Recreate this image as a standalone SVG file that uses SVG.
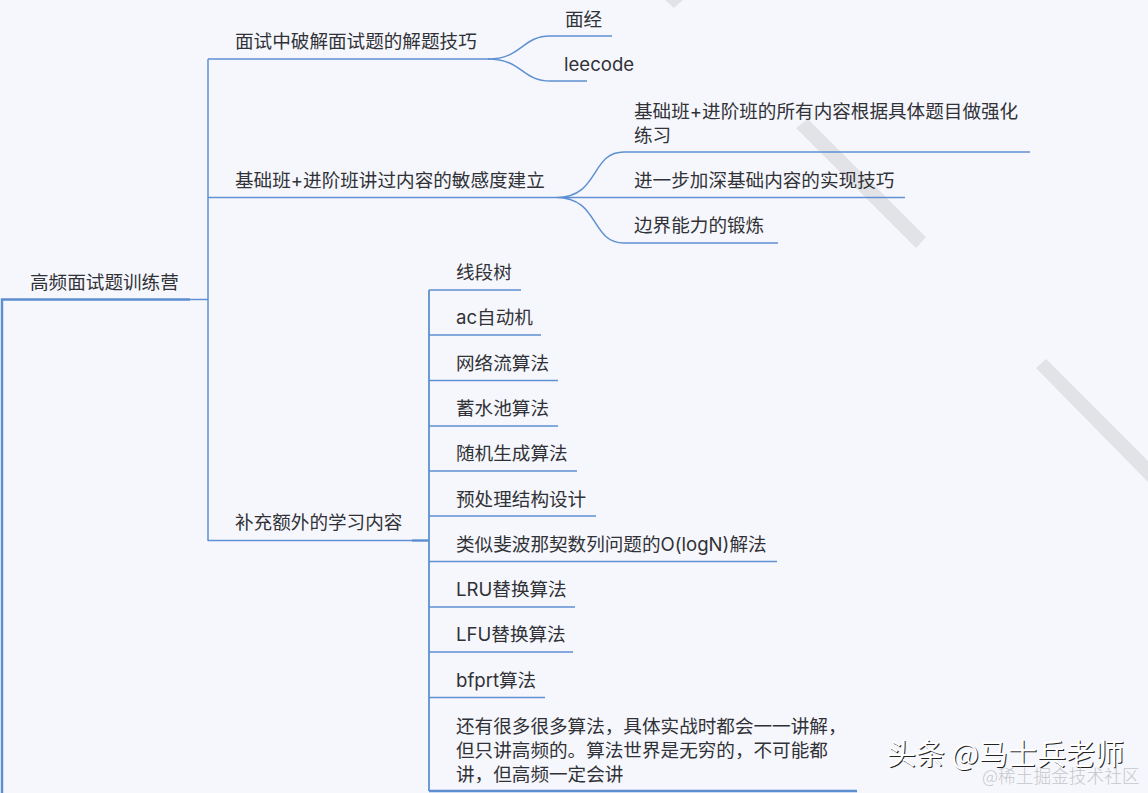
<svg xmlns="http://www.w3.org/2000/svg" width="1148" height="793" viewBox="0 0 1148 793">
<style>
text{font-family:"Inter","Noto Sans CJK SC",sans-serif;font-size:18.6px;fill:#303237}
.c{fill:none;stroke:#5f90d2;stroke-width:1.5}
.t{fill:none;stroke:#5b8dd0;stroke-width:2.4}
.b{fill:#e2e3e7}
.w{font-family:"Noto Sans CJK SC",sans-serif;font-size:29px;fill:#fff;text-shadow:1px 1px 0 #222}
.s{font-family:"Noto Sans CJK SC",sans-serif;font-size:17.7px;fill:#c6c7cb;font-weight:300}
</style>
<rect width="1148" height="793" fill="#f6f7fc"/>
<g id="bands">
<polygon class="b" points="665,0 674,8 683,0"/>
<polygon class="b" points="796,128 808,119 926,237 916,248"/>
<polygon class="b" points="1036,368 1046,359 1148,461 1148,482"/>
</g>
<g id="connectors">
<path class="t" d="M2,793V299.500H190"/>
<path class="c" d="M190,299.500H208M208,59V541M208,59H490M208,197.500H556M208,540.500H412"/>
<path class="t" d="M412,540.500H429"/>
<path class="c" d="M488,59C522,59 522,36 550,36H612M488,59C522,59 522,81 550,81H587"/>
<path class="c" d="M556,197.500C600,197.500 590,152 624,152H1030M556,197.500H905M556,197.500C600,197.500 590,243 624,243H778"/>
<path class="c" d="M429,290V791" style="stroke-width:1.8"/>
<path class="c" d="M429,290H521M429,335H541M429,380.500H558M429,426H558M429,471H577M429,516H596M429,561.500H777M429,607H575M429,652H573M429,697.500H545"/>
<path class="t" d="M429,791H857"/>
</g>
<g id="root"><text x="30" y="289">高频面试题训练营</text></g>
<g id="n1"><text x="235" y="48">面试中破解面试题的解题技巧</text></g>
<g id="n1a"><text x="565" y="26">面经</text></g>
<g id="n1b"><text x="564" y="71">leecode</text></g>
<g id="n2"><text x="235" y="187">基础班+进阶班讲过内容的敏感度建立</text></g>
<g id="n2a"><text x="634" y="118">基础班+进阶班的所有内容根据具体题目做强化</text><text x="634" y="142">练习</text></g>
<g id="n2b"><text x="634" y="187">进一步加深基础内容的实现技巧</text></g>
<g id="n2c"><text x="634" y="232">边界能力的锻炼</text></g>
<g id="n3"><text x="235" y="529">补充额外的学习内容</text></g>
<g id="n3a"><text x="456" y="279">线段树</text></g>
<g id="n3b"><text x="456" y="324">ac自动机</text></g>
<g id="n3c"><text x="456" y="370">网络流算法</text></g>
<g id="n3d"><text x="456" y="415">蓄水池算法</text></g>
<g id="n3e"><text x="456" y="460">随机生成算法</text></g>
<g id="n3f"><text x="456" y="506">预处理结构设计</text></g>
<g id="n3g"><text x="456" y="551">类似斐波那契数列问题的O(logN)解法</text></g>
<g id="n3h"><text x="456" y="596">LRU替换算法</text></g>
<g id="n3i"><text x="456" y="641">LFU替换算法</text></g>
<g id="n3j"><text x="456" y="687">bfprt算法</text></g>
<g id="n3k"><text x="456" y="733">还有很多很多算法，具体实战时都会一一讲解，</text><text x="456" y="757">但只讲高频的。算法世界是无穷的，不可能都</text><text x="456" y="781">讲，但高频一定会讲</text></g>
<g id="watermark">
<text class="w" x="887" y="765">头条 @马士兵老师</text>
<text class="s" x="982" y="783">@稀土掘金技术社区</text>
</g>
</svg>
